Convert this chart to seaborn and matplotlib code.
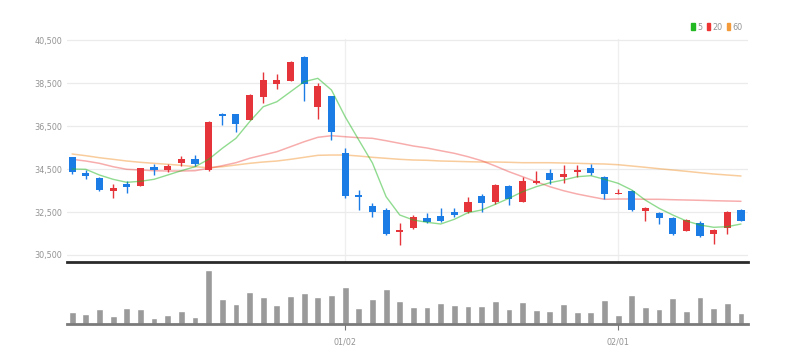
import matplotlib
matplotlib.use("Agg")
import matplotlib.pyplot as plt
from matplotlib.patches import Patch
import seaborn as sns

# daily prices
opens = [35040, 34330, 34100, 33490, 33790, 33720, 34610, 34450, 34790, 34950,
         34450, 37060, 37040, 36780, 37860, 38470, 38610, 39720, 37400, 37900,
         35260, 33290, 32780, 32590, 31560, 31740, 32240, 32310, 32490, 32490,
         33260, 32950, 33720, 32980, 33840, 34300, 34140, 34360, 34550, 34140,
         33320, 33480, 32550, 32470, 32240, 31630, 31980, 31480, 31770, 32590]
highs = [35080, 34450, 34130, 33790, 33940, 34560, 34730, 34730, 35120, 35140,
         36750, 37120, 37060, 37990, 39030, 38910, 39540, 39760, 38490, 37900,
         35490, 33520, 32910, 32670, 32000, 32360, 32440, 32700, 32670, 33180,
         33320, 33790, 33760, 34110, 34410, 34490, 34690, 34690, 34730, 34180,
         33570, 33520, 32750, 32510, 32280, 32180, 32100, 31700, 32550, 32630]
lows = [34270, 34020, 33480, 33170, 33370, 33710, 34220, 34380, 34640, 34650,
        34420, 36530, 36240, 36780, 37560, 38220, 38580, 37680, 36810, 35850,
        33140, 32590, 32280, 31430, 30970, 31710, 31980, 32050, 32250, 32450,
        32510, 32870, 32830, 32950, 33790, 33790, 33840, 34140, 34210, 33090,
        33320, 32550, 32080, 31940, 31450, 31600, 31350, 31000, 31480, 32080]
closes = [34380, 34180, 33520, 33630, 33680, 34530, 34450, 34650, 34980, 34730,
          36700, 36970, 36590, 37930, 38630, 38630, 39490, 38450, 38380, 36220,
          33240, 33210, 32510, 31480, 31660, 32280, 32050, 32100, 32360, 32980,
          32910, 33760, 33090, 33960, 33960, 33990, 34280, 34450, 34330, 33320,
          33370, 32590, 32670, 32210, 31480, 32130, 31380, 31650, 32510, 32100]

# moving averages as drawn
ma5 = [34500, 34486, 34221, 34021, 33881, 33928, 34021, 34221, 34421, 34607,
       34950, 35463, 35928, 36700, 37398, 37630, 38095, 38560, 38719, 38174,
       36933, 35849, 34779, 33212, 32361, 32128, 32021, 31942, 32161, 32468,
       32593, 32858, 33137, 33444, 33677, 33863, 33989, 34142, 34189, 34021,
       33835, 33523, 33050, 32672, 32361, 32082, 31896, 31789, 31817, 31942]
ma20 = [34951, 34872, 34765, 34607, 34486, 34454, 34421, 34407, 34407, 34421,
        34533, 34654, 34793, 34998, 35151, 35305, 35537, 35770, 35975, 36049,
        36002, 35956, 35928, 35816, 35695, 35570, 35477, 35351, 35230, 35072,
        34886, 34640, 34375, 34142, 33910, 33677, 33491, 33337, 33212, 33091,
        33105, 33105, 33091, 33091, 33072, 33058, 33044, 33026, 33012, 32998]
ma60 = [35198, 35119, 35026, 34951, 34872, 34812, 34765, 34719, 34672, 34607,
        34561, 34607, 34686, 34765, 34826, 34872, 34951, 35044, 35137, 35151,
        35151, 35105, 35044, 34998, 34951, 34919, 34905, 34872, 34858, 34840,
        34826, 34826, 34812, 34793, 34793, 34793, 34779, 34765, 34747, 34733,
        34700, 34640, 34579, 34514, 34454, 34393, 34328, 34268, 34221, 34175]

volume = [37, 29, 45, 24, 48, 45, 18, 28, 40, 22, 163, 74, 59, 97, 82, 57, 84, 94, 82, 88,
          112, 47, 74, 105, 69, 50, 50, 64, 58, 53, 55, 68, 45, 67, 43, 39, 59, 35, 37, 73,
          27, 87, 50, 45, 77, 39, 82, 47, 62, 32]

date_ticks = [20, 40]
date_labels = ["01/02", "02/01"]
price_ticks = [30500, 32500, 34500, 36500, 38500, 40500]

UP = "#e5353b"
DOWN = "#1b7ce6"
MA_COLORS = {"5": "#22b822", "20": "#ee3333", "60": "#f39a3a"}

sns.set_theme(style="white")
plt.rcParams["font.family"] = ["Liberation Sans Narrow", "DejaVu Sans Condensed", "DejaVu Sans"]
plt.rcParams["font.stretch"] = "condensed"

idx = list(range(len(closes)))

fig = plt.figure(figsize=(7.92, 3.64), dpi=100)
ax = fig.add_axes([0.0842, 0.2802, 0.86, 0.6126])
axv = fig.add_axes([0.0842, 0.1099, 0.86, 0.162])

# price panel
for i in idx:
    o, h, l, c = opens[i], highs[i], lows[i], closes[i]
    col = UP if c >= o else DOWN
    ax.vlines(i, l, h, color=col, lw=1, zorder=3)
    body = max(abs(c - o), 40)
    ax.bar(i, body, bottom=min(o, c), width=0.52, color=col, zorder=4, linewidth=0)

sns.lineplot(x=idx, y=ma60, ax=ax, color=MA_COLORS["60"], lw=1.1, alpha=0.5, zorder=2)
sns.lineplot(x=idx, y=ma20, ax=ax, color=MA_COLORS["20"], lw=1.1, alpha=0.4, zorder=2)
sns.lineplot(x=idx, y=ma5, ax=ax, color=MA_COLORS["5"], lw=1.0, alpha=0.5, zorder=5)

ax.set_xlim(-0.4, 49.5)
ax.set_ylim(30174, 40547)
ax.set_yticks(price_ticks)
ax.set_yticklabels([f"{v:,}" for v in price_ticks])
ax.grid(axis="y", color="#ebebeb", lw=0.9)
for t in date_ticks:
    ax.axvline(t, color="#efefef", lw=0.9, zorder=0)
ax.tick_params(axis="y", length=0, labelsize=6.5, colors="#939393", pad=3)
ax.tick_params(axis="x", bottom=False, labelbottom=False)
for s in ["top", "right", "left"]:
    ax.spines[s].set_visible(False)
ax.spines["bottom"].set_color("#2a2a2a")
ax.spines["bottom"].set_linewidth(2)
ax.set_xlabel("")
ax.set_ylabel("")

# volume panel
sns.barplot(x=idx, y=volume, ax=axv, color="#9a9a9a", width=0.5, saturation=1)
axv.set_xlim(-0.4, 49.5)
axv.set_ylim(0, 177)
axv.set_yticks([])
axv.set_xticks(date_ticks)
axv.set_xticklabels(date_labels)
axv.tick_params(axis="x", length=4, width=0.8, color="#777777", labelsize=6.5,
                labelcolor="#939393", pad=6, bottom=True)
for s in ["top", "right", "left"]:
    axv.spines[s].set_visible(False)
axv.spines["bottom"].set_color("#7a7a7a")
axv.spines["bottom"].set_linewidth(2)
axv.set_xlabel("")
axv.set_ylabel("")

handles = [Patch(color=c) for c in MA_COLORS.values()]
fig.legend(handles=handles, labels=list(MA_COLORS.keys()), loc="upper right",
           bbox_to_anchor=(0.945, 0.955), ncol=3, fontsize=6.5, frameon=False,
           handlelength=0.4, handleheight=0.9, handletextpad=0.2,
           columnspacing=0.5, labelcolor="#939393", borderpad=0.2)

fig.savefig("out.png", dpi=100, facecolor="white")
